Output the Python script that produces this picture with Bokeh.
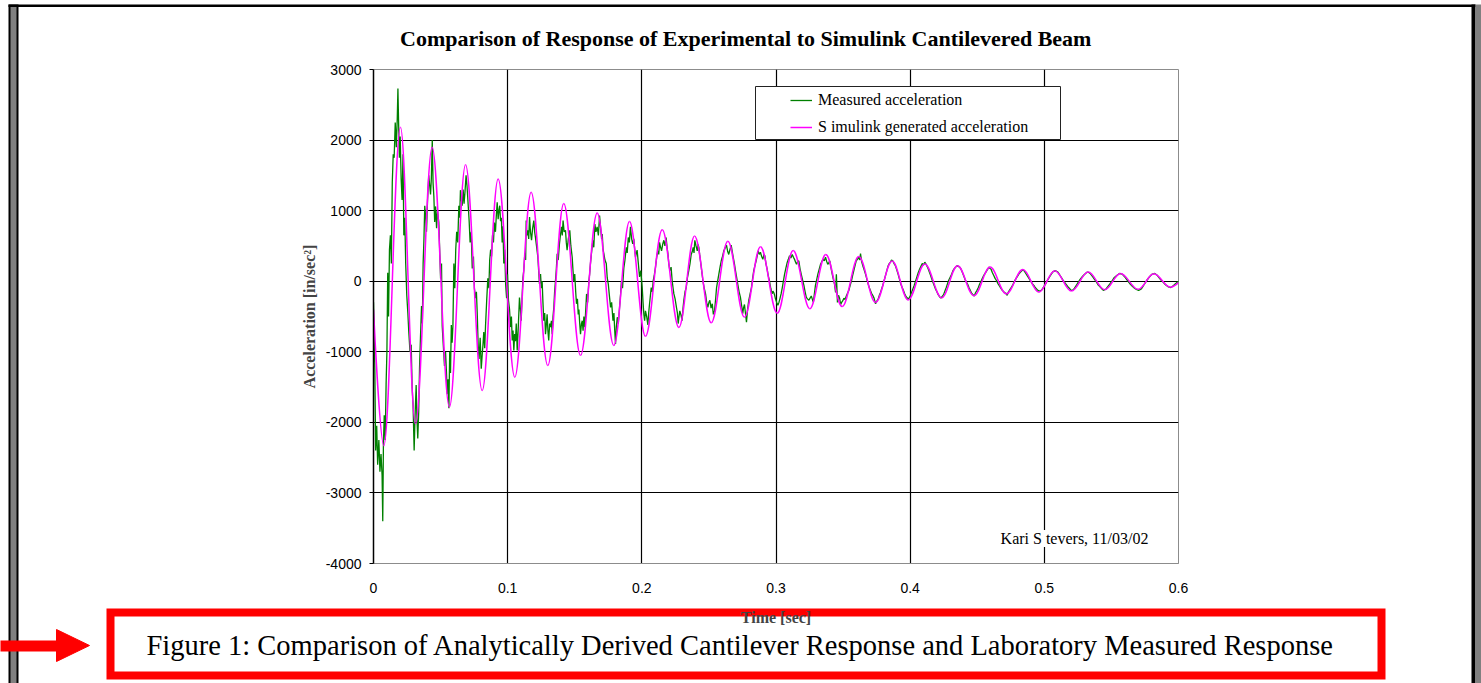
from bokeh.plotting import figure
from bokeh.models import (Range1d, FixedTicker, Label, BoxAnnotation, Legend, LegendItem)
from bokeh.core.properties import value
from bokeh.embed import file_html
from bokeh.resources import INLINE

# ---------------- texts ----------------
title_text = "Comparison of  Response of Experimental to Simulink Cantilevered Beam"
x_label = "Time [sec]"
y_label = "Acceleration [in/sec\u00b2]"
series_names = ["Measured acceleration", "S imulink generated acceleration"]
author_text = "Kari S tevers, 11/03/02"
caption_text = ("Figure 1: Comparison of Analytically Derived Cantilever Response "
                "and Laboratory Measured Response")

# ---------------- ticks ----------------
x_ticks = [0, 0.1, 0.2, 0.3, 0.4, 0.5, 0.6]
x_tick_labels = ["0", "0.1", "0.2", "0.3", "0.4", "0.5", "0.6"]
y_ticks = [-4000, -3000, -2000, -1000, 0, 1000, 2000, 3000]
y_tick_labels = ["-4000", "-3000", "-2000", "-1000", "0", "1000", "2000", "3000"]

# ---------------- Simulink response (extrema) ----------------
sim_t = [0.0, 0.0077, 0.0201, 0.0313, 0.0437, 0.0566, 0.0686, 0.0810, 0.0929, 0.1053,
         0.1175, 0.1299, 0.1418, 0.1543, 0.1667, 0.1791, 0.1908, 0.2027, 0.2152, 0.2276,
         0.2393, 0.2517, 0.2641, 0.2765, 0.2884, 0.3009, 0.3128, 0.3252, 0.3371, 0.3493,
         0.3617, 0.3742, 0.3866, 0.3985, 0.4109, 0.4235, 0.4353, 0.4475, 0.4596, 0.4716,
         0.4840, 0.4959, 0.5078, 0.5202, 0.5327, 0.5450, 0.5568, 0.5699, 0.5816, 0.5940,
         0.6]
sim_acc = [-400, -2330, 2180, -2020, 1900, -1785, 1650, -1550, 1450, -1360,
           1260, -1195, 1100, -1050, 965, -910, 845, -780, 730, -655,
           640, -590, 565, -510, 490, -455, 435, -390, 380, -360,
           350, -300, 285, -265, 245, -235, 220, -205, 200, -180,
           165, -155, 150, -140, 130, -120, 110, -115, 105, -85,
           -20]

measured = [
    (0.0000, -300), (0.0010, -1250), (0.0016, -2400), (0.0024, -2050), (0.0031, -2600),
    (0.0040, -2250), (0.0048, -2700), (0.0056, -2450), (0.0064, -2750), (0.0069, -3400),
    (0.0074, -2300), (0.0080, -1900), (0.0087, -2250), (0.0094, -1450), (0.0100, -1000),
    (0.0106, 120), (0.0112, -500), (0.0119, 450), (0.0126, 650), (0.0133, 250),
    (0.0140, 1400), (0.0147, 1800), (0.0154, 1750), (0.0162, 2250), (0.0170, 1900),
    (0.0177, 2300), (0.0182, 2730), (0.0187, 2250), (0.0193, 1750), (0.0199, 2050),
    (0.0206, 1450), (0.0213, 1150), (0.0220, 1800), (0.0226, 650), (0.0233, 900),
    (0.0240, 250), (0.0248, -200), (0.0256, -450), (0.0263, -720), (0.0272, -1000),
    (0.0281, -900), (0.0288, -1500), (0.0295, -1760), (0.0303, -2400), (0.0310, -1900),
    (0.0318, -1470), (0.0324, -1970), (0.0330, -2230), (0.0337, -1850), (0.0343, -1240),
    (0.0350, -800), (0.0358, -350), (0.0364, -600), (0.0370, 260), (0.0376, 600),
    (0.0382, 1070), (0.0389, 900), (0.0395, 700), (0.0403, 1150), (0.0412, 1500),
    (0.0419, 1350), (0.0425, 1230), (0.0431, 1450), (0.0438, 2000), (0.0444, 1390),
    (0.0450, 1200), (0.0456, 840), (0.0463, 1060), (0.0470, 750), (0.0477, 1000),
    (0.0487, 830), (0.0494, 400), (0.0500, 40), (0.0507, 250), (0.0512, -630),
    (0.0520, -900), (0.0529, -1200), (0.0537, -1000), (0.0544, -1300), (0.0550, -1600),
    (0.0556, -1390), (0.0562, -1800), (0.0568, -1000), (0.0574, -1300), (0.0580, -620),
    (0.0586, -870), (0.0592, -630), (0.0599, 250), (0.0606, -100), (0.0613, 450),
    (0.0620, 700), (0.0628, 550), (0.0636, 1070), (0.0642, 900), (0.0648, 1290),
    (0.0655, 1150), (0.0661, 1070), (0.0668, 1300), (0.0675, 1100), (0.0682, 1270),
    (0.0690, 1500), (0.0697, 1350), (0.0706, 1070), (0.0713, 850), (0.0720, 550),
    (0.0728, 700), (0.0736, 180), (0.0745, 350), (0.0752, -100), (0.0760, -240),
    (0.0767, -150), (0.0773, -440), (0.0780, -900), (0.0787, -1100), (0.0795, -800),
    (0.0803, -1240), (0.0810, -1050), (0.0816, -900), (0.0822, -720), (0.0829, -950),
    (0.0835, -630), (0.0843, -300), (0.0852, 40), (0.0860, -100), (0.0866, 300),
    (0.0873, 450), (0.0880, 350), (0.0887, 650), (0.0894, 550), (0.0901, 830),
    (0.0909, 700), (0.0916, 950), (0.0922, 1120), (0.0929, 880), (0.0935, 1000),
    (0.0941, 1070), (0.0947, 850), (0.0953, 900), (0.0959, 550), (0.0965, 780),
    (0.0971, 250), (0.0978, 450), (0.0985, -50), (0.0992, -240), (0.0999, 100),
    (0.1006, -270), (0.1014, -400), (0.1021, -650), (0.1028, -500), (0.1034, -840),
    (0.1040, -700), (0.1046, -980), (0.1052, -750), (0.1058, -850), (0.1064, -600),
    (0.1071, -980), (0.1078, -700), (0.1088, -230), (0.1095, -400), (0.1101, -560),
    (0.1108, -200), (0.1114, 50), (0.1120, 150), (0.1128, 400), (0.1134, 300),
    (0.1138, 860), (0.1144, 650), (0.1150, 720), (0.1157, 600), (0.1163, 910),
    (0.1170, 700), (0.1178, 580), (0.1186, 750), (0.1195, 860), (0.1201, 700),
    (0.1207, 620), (0.1215, 500), (0.1225, 340), (0.1231, 150), (0.1237, -40),
    (0.1245, 100), (0.1251, -100), (0.1257, 0), (0.1263, -300), (0.1269, -560),
    (0.1276, -450), (0.1282, -750), (0.1288, -620), (0.1294, -470), (0.1300, -700),
    (0.1306, -840), (0.1313, -600), (0.1319, -650), (0.1326, -560), (0.1332, -750),
    (0.1338, -500), (0.1344, -370), (0.1350, -150), (0.1356, 0), (0.1362, 150),
    (0.1369, 390), (0.1377, 300), (0.1386, 530), (0.1393, 650), (0.1401, 770),
    (0.1407, 650), (0.1413, 860), (0.1421, 700), (0.1431, 720), (0.1437, 550),
    (0.1443, 440), (0.1452, 600), (0.1463, 720), (0.1471, 500), (0.1481, 340),
    (0.1487, 150), (0.1493, 0), (0.1500, 100), (0.1507, -150), (0.1513, -320),
    (0.1520, -250), (0.1526, -470), (0.1531, -400), (0.1537, -600), (0.1543, -750),
    (0.1550, -600), (0.1556, -560), (0.1562, -700), (0.1568, -500), (0.1575, -650),
    (0.1582, -400), (0.1588, -180), (0.1596, -300), (0.1605, 0), (0.1611, 100),
    (0.1617, 250), (0.1625, 400), (0.1635, 580), (0.1642, 480), (0.1650, 810),
    (0.1658, 700), (0.1667, 770), (0.1676, 650), (0.1685, 930), (0.1693, 750),
    (0.1700, 600), (0.1705, 670), (0.1711, 450), (0.1717, 390), (0.1725, 300),
    (0.1735, 250), (0.1742, 50), (0.1750, -40), (0.1758, -200), (0.1767, -370),
    (0.1775, -300), (0.1785, -560), (0.1792, -450), (0.1798, -700), (0.1804, -890),
    (0.1810, -650), (0.1817, -510), (0.1825, -600), (0.1834, -370), (0.1841, -200),
    (0.1848, 0), (0.1856, -100), (0.1866, 190), (0.1874, 300), (0.1884, 480),
    (0.1891, 400), (0.1899, 620), (0.1907, 550), (0.1915, 770), (0.1924, 600),
    (0.1932, 530), (0.1940, 600), (0.1947, 450), (0.1953, 340), (0.1959, 400),
    (0.1965, 440), (0.1974, 250), (0.1983, 60), (0.1992, 150), (0.2003, -90),
    (0.2009, -300), (0.2015, -470), (0.2021, -560), (0.2027, -420), (0.2036, -500),
    (0.2045, -620), (0.2051, -450), (0.2057, -330), (0.2064, -200), (0.2070, -90),
    (0.2078, -150), (0.2085, 10), (0.2094, 100), (0.2102, 200), (0.2110, 330),
    (0.2119, 430), (0.2126, 380), (0.2132, 550), (0.2140, 480), (0.2147, 430),
    (0.2155, 520), (0.2164, 580), (0.2172, 500), (0.2181, 620), (0.2188, 480),
    (0.2194, 400), (0.2201, 250), (0.2209, 150), (0.2218, 200), (0.2226, 10),
    (0.2233, -100), (0.2239, -180), (0.2248, -250), (0.2258, -370), (0.2265, -450),
    (0.2271, -600), (0.2277, -500), (0.2283, -420), (0.2292, -480), (0.2300, -560),
    (0.2307, -380), (0.2313, -270), (0.2322, -150), (0.2331, -90), (0.2340, 50),
    (0.2350, 150), (0.2359, 250), (0.2368, 380), (0.2376, 420), (0.2383, 480),
    (0.2389, 400), (0.2395, 580), (0.2404, 500), (0.2413, 430), (0.2419, 520),
    (0.2425, 480), (0.2431, 380), (0.2437, 290), (0.2446, 150), (0.2455, 10),
    (0.2465, -100), (0.2475, -180), (0.2483, -300), (0.2492, -370), (0.2500, -300),
    (0.2507, -270), (0.2516, -380), (0.2525, -320), (0.2533, -470), (0.2542, -420),
    (0.2550, -250), (0.2557, -90), (0.2565, 0), (0.2574, 100), (0.2583, 200),
    (0.2592, 290), (0.2601, 350), (0.2611, 430), (0.2621, 470), (0.2631, 510),
    (0.2640, 420), (0.2648, 380), (0.2657, 450), (0.2666, 510), (0.2674, 420),
    (0.2681, 340), (0.2690, 250), (0.2698, 150), (0.2706, 60), (0.2715, -40),
    (0.2725, -150), (0.2735, -230), (0.2744, -350), (0.2752, -460), (0.2758, -380),
    (0.2765, -330), (0.2772, -450), (0.2780, -580), (0.2788, -400), (0.2797, -270),
    (0.2807, -180), (0.2817, -90), (0.2825, 30), (0.2834, 150), (0.2843, 220),
    (0.2852, 290), (0.2860, 360), (0.2867, 430), (0.2876, 380), (0.2884, 410),
    (0.2893, 350), (0.2902, 310), (0.2910, 380), (0.2917, 360), (0.2925, 250),
    (0.2934, 170), (0.2942, 80), (0.2951, 10), (0.2961, -100), (0.2971, -180),
    (0.2977, -140), (0.2983, -160), (0.2990, -200), (0.2996, -250), (0.3005, -300),
    (0.3014, -340), (0.3022, -300), (0.3029, -250), (0.3038, -180), (0.3047, -90),
    (0.3055, 0), (0.3064, 100), (0.3074, 190), (0.3084, 270), (0.3092, 310),
    (0.3101, 360), (0.3111, 330), (0.3121, 380), (0.3130, 340), (0.3138, 310),
    (0.3146, 270), (0.3153, 240), (0.3161, 280), (0.3170, 290), (0.3179, 180),
    (0.3188, 100), (0.3198, 20), (0.3208, -60), (0.3217, -150), (0.3226, -230),
    (0.3235, -250), (0.3245, -270), (0.3254, -240), (0.3263, -210), (0.3270, -250),
    (0.3278, -300), (0.3286, -180), (0.3294, -60), (0.3303, 20), (0.3312, 100),
    (0.3322, 170), (0.3332, 240), (0.3342, 280), (0.3352, 310), (0.3360, 290),
    (0.3369, 340), (0.3378, 280), (0.3386, 240), (0.3393, 260), (0.3401, 290),
    (0.3410, 190), (0.3419, 100), (0.3427, 30), (0.3436, -40), (0.3444, -160),
    (0.3450, 100), (0.3458, -300), (0.3466, -200), (0.3474, -240), (0.3482, -330),
    (0.3489, -300), (0.3497, -280), (0.3506, -240), (0.3515, -260), (0.3524, -210),
    (0.3533, -170), (0.3543, -130), (0.3553, -60), (0.3563, 10), (0.3571, 80),
    (0.3580, 150), (0.3589, 220), (0.3598, 290), (0.3607, 310), (0.3617, 340),
    (0.3624, 300), (0.3630, 390), (0.3638, 280), (0.3647, 220), (0.3657, 160),
    (0.3667, 100), (0.3677, 30), (0.3687, -40), (0.3695, -90), (0.3704, -130),
    (0.3712, -170), (0.3721, -200), (0.3731, -240), (0.3742, -320), (0.3752, -280),
    (0.3762, -250), (0.3770, -200), (0.3779, -160), (0.3787, -110), (0.3796, -60),
    (0.3806, 10), (0.3816, 80), (0.3826, 150), (0.3836, 220), (0.3844, 250),
    (0.3853, 270), (0.3861, 300), (0.3870, 290), (0.3880, 250), (0.3890, 220),
    (0.3900, 160), (0.3910, 100), (0.3920, 30), (0.3930, -40), (0.3940, -90),
    (0.3950, -130), (0.3960, -180), (0.3970, -220), (0.3980, -240), (0.3990, -250),
    (0.4000, -210), (0.4010, -160), (0.4020, -110), (0.4030, -60), (0.4040, 0),
    (0.4050, 60), (0.4060, 120), (0.4070, 170), (0.4080, 210), (0.4090, 250),
    (0.4100, 230), (0.4109, 270), (0.4119, 240), (0.4129, 200), (0.4139, 150),
    (0.4149, 100), (0.4159, 40), (0.4169, -10), (0.4179, -60), (0.4189, -110),
    (0.4199, -150), (0.4209, -190), (0.4219, -220), (0.4229, -240), (0.4239, -215),
    (0.4249, -190), (0.4259, -140), (0.4269, -90), (0.4279, -30), (0.4289, 20),
    (0.4299, 60), (0.4309, 100), (0.4319, 150), (0.4329, 180), (0.4339, 200),
    (0.4349, 220), (0.4359, 210), (0.4369, 200), (0.4379, 170), (0.4388, 130),
    (0.4398, 80), (0.4408, 30), (0.4418, -10), (0.4428, -40), (0.4438, -90),
    (0.4448, -130), (0.4458, -170), (0.4468, -190), (0.4478, -210), (0.4488, -160),
    (0.4498, -130), (0.4508, -90), (0.4518, -40), (0.4528, 0), (0.4538, 40),
    (0.4548, 80), (0.4558, 110), (0.4568, 140), (0.4578, 170), (0.4588, 200),
    (0.4596, 180), (0.4603, 170), (0.4613, 120), (0.4623, 80), (0.4633, 40),
    (0.4643, 10), (0.4653, -30), (0.4663, -60), (0.4673, -90), (0.4683, -120),
    (0.4693, -140), (0.4703, -160), (0.4713, -170), (0.4723, -200), (0.4733, -150),
    (0.4743, -120), (0.4753, -90), (0.4763, -60), (0.4773, -20), (0.4783, 20),
    (0.4793, 50), (0.4803, 80), (0.4813, 110), (0.4823, 130), (0.4833, 150),
    (0.4842, 160), (0.4852, 140), (0.4862, 110), (0.4872, 80), (0.4882, 50),
    (0.4892, 20), (0.4902, -10), (0.4912, -40), (0.4922, -60), (0.4932, -90),
    (0.4942, -110), (0.4952, -130), (0.4962, -140), (0.4972, -135), (0.4982, -120),
    (0.4992, -90), (0.5002, -60), (0.5012, -30), (0.5022, 10), (0.5032, 40),
    (0.5042, 70), (0.5052, 100), (0.5062, 130), (0.5071, 140), (0.5081, 150),
    (0.5091, 140), (0.5101, 130), (0.5111, 100), (0.5121, 70), (0.5131, 40),
    (0.5141, 10), (0.5151, -15), (0.5161, -40), (0.5171, -65), (0.5181, -90),
    (0.5191, -110), (0.5201, -130), (0.5211, -125), (0.5221, -110), (0.5231, -80),
    (0.5241, -50), (0.5251, -20), (0.5261, 10), (0.5271, 35), (0.5281, 60),
    (0.5291, 80), (0.5301, 100), (0.5311, 115), (0.5321, 130), (0.5331, 125),
    (0.5341, 110), (0.5351, 85), (0.5361, 60), (0.5371, 35), (0.5381, 10),
    (0.5391, -20), (0.5400, -50), (0.5410, -70), (0.5420, -90), (0.5430, -110),
    (0.5440, -130), (0.5450, -120), (0.5460, -110), (0.5470, -85), (0.5480, -60),
    (0.5490, -35), (0.5500, -10), (0.5510, 20), (0.5520, 50), (0.5530, 65),
    (0.5540, 80), (0.5550, 95), (0.5560, 110), (0.5570, 105), (0.5580, 100),
    (0.5590, 80), (0.5600, 60), (0.5610, 35), (0.5620, 10), (0.5630, -15),
    (0.5640, -40), (0.5650, -60), (0.5660, -80), (0.5670, -95), (0.5680, -110),
    (0.5690, -120), (0.5703, -130), (0.5713, -120), (0.5723, -110), (0.5733, -80),
    (0.5743, -50), (0.5753, -20), (0.5763, 10), (0.5773, 35), (0.5783, 60),
    (0.5793, 80), (0.5803, 100), (0.5813, 105), (0.5823, 110), (0.5833, 95),
    (0.5843, 80), (0.5853, 55), (0.5863, 30), (0.5873, 10), (0.5883, -10),
    (0.5893, -30), (0.5903, -50), (0.5913, -65), (0.5923, -80), (0.5933, -85),
    (0.5943, -90), (0.5953, -75), (0.5963, -60), (0.5975, -40), (0.5987, -20),
    (0.6000, 0),
]
meas_t = [pt[0] for pt in measured]
meas_acc = [pt[1] for pt in measured]

# ---------------- layout (page pixels) ----------------
W, H = 1481, 683
FL, FR, FT, FB = 373, 1178, 69, 563   # plot frame edges on the page

def sx(px):   # page x -> frame-relative screen x
    return px - FL

def sy(py):   # page y -> frame-relative screen y (upwards)
    return FB - py

SERIF = "Liberation Serif"
SANS = "Liberation Sans"

p = figure(width=W, height=H, x_range=Range1d(0, 0.6), y_range=Range1d(-4000, 3000),
           output_backend="svg", toolbar_location=None,
           min_border_left=FL, min_border_right=W - FR,
           min_border_top=FT, min_border_bottom=H - FB,
           background_fill_color="white", border_fill_color="white",
           outline_line_color="#8c8c8c", outline_line_width=1)
# a pixel-space coordinate system (page pixels) for the decorations around the chart
p.extra_x_ranges = {"page": Range1d(FL, FR)}
p.extra_y_ranges = {"page": Range1d(FB, FT)}
PG = dict(x_range_name="page", y_range_name="page", level="overlay")
PG_UNDER = dict(x_range_name="page", y_range_name="page", level="guide")

# axes
xa = p.xaxis[0]
xa.ticker = FixedTicker(ticks=x_ticks)
xa.major_label_overrides = dict(zip(x_ticks, x_tick_labels))
xa.major_tick_out = 0
xa.major_tick_in = 0
xa.minor_tick_out = 0
xa.minor_tick_in = 0
xa.axis_line_color = "#8c8c8c"
xa.major_label_standoff = 19
xa.major_label_text_font = SANS
xa.major_label_text_font_size = "14px"
xa.major_label_text_color = "black"
xa.axis_label = x_label
xa.axis_label_text_font = SERIF
xa.axis_label_text_font_style = "bold"
xa.axis_label_text_font_size = "16px"
xa.axis_label_standoff = 13

ya = p.yaxis[0]
ya.ticker = FixedTicker(ticks=y_ticks)
ya.major_label_overrides = dict(zip(y_ticks, y_tick_labels))
ya.major_tick_out = 4
ya.major_tick_in = 0
ya.minor_tick_out = 0
ya.minor_tick_in = 0
ya.axis_line_color = "black"
ya.axis_line_width = 1.5
ya.major_tick_line_color = "black"
ya.major_label_standoff = 8
ya.major_label_text_font = SANS
ya.major_label_text_font_size = "14px"
ya.major_label_text_color = "black"
ya.axis_label = y_label
ya.axis_label_text_font = SERIF
ya.axis_label_text_font_style = "bold"
ya.axis_label_text_font_size = "16px"
ya.axis_label_standoff = 5

p.xgrid[0].ticker = FixedTicker(ticks=x_ticks[1:-1])
p.ygrid[0].ticker = FixedTicker(ticks=y_ticks[1:-1])
for g in (p.xgrid[0], p.ygrid[0]):
    g.grid_line_color = "black"
    g.grid_line_width = 1.2

# data
r_meas = p.line(meas_t, meas_acc, line_color="#008000", line_width=1.3)

k = 0.364
bx0, by0 = sim_t[:-1], sim_acc[:-1]
bx1, by1 = sim_t[1:], sim_acc[1:]
cx0 = [a + k * (b - a) for a, b in zip(bx0, bx1)]
cx1 = [b - k * (b - a) for a, b in zip(bx0, bx1)]
cy0 = list(by0)
cy1 = list(by1)
cx0[0], cy0[0] = bx0[0], by0[0]
cx1[-1], cy1[-1] = bx1[-1], by1[-1]
r_sim = p.bezier(x0=bx0, y0=by0, x1=bx1, y1=by1, cx0=cx0, cy0=cy0, cx1=cx1, cy1=cy1,
                 line_color="#ff00ff", line_width=1.5)

# legend box + legend
p.add_layout(BoxAnnotation(left=sx(755), right=sx(1060), top=sy(86), bottom=sy(139),
                           left_units="screen", right_units="screen",
                           top_units="screen", bottom_units="screen",
                           fill_color="white", fill_alpha=1.0,
                           line_color="#222222", line_width=1, line_alpha=1.0))
legend = Legend(items=[LegendItem(label=series_names[0], renderers=[r_meas]),
                       LegendItem(label=series_names[1], renderers=[r_sim])],
                location=(sx(786), sy(141)), padding=4, spacing=7, margin=0,
                glyph_width=22, glyph_height=20, label_height=20, label_standoff=6,
                border_line_alpha=0, background_fill_alpha=0,
                label_text_font=SERIF, label_text_font_size="16px",
                label_text_color="black")
p.add_layout(legend)

# author note (inside the plot area)
p.add_layout(Label(x=sx(1074), y=sy(538), x_units="screen", y_units="screen",
                   text=author_text, text_align="center", text_baseline="middle",
                   text_font=SERIF, text_font_size="16px", text_color="black",
                   background_fill_color="white", background_fill_alpha=1.0))

# ---------- decorations outside the plot area, in page pixels ----------
# caption box + caption (drawn under the axis texts)
p.quad(left=[110], right=[1381], top=[612], bottom=[675], fill_color="white",
       line_color="red", line_width=8, line_join="miter", **PG_UNDER)
p.text(x=[740], y=[645], text=[caption_text], text_align="center", text_baseline="middle",
       text_font=value(SERIF), text_font_size="28.5px", text_color="black", **PG_UNDER)

# page frame (document border)
bars_l = [8, 10, 8, 1471, 1475]
bars_r = [18, 16, 1475, 1475, 1481]
bars_t = [4, 6, 4, 4, 4]
bars_b = [683, 683, 6.5, 683, 683]
bars_c = ["black", "#808080", "black", "black", "#808080"]
p.quad(left=bars_l, right=bars_r, top=bars_t, bottom=bars_b, fill_color=bars_c,
       line_alpha=0, **PG)

# chart title
p.text(x=[748], y=[38], text=[title_text], text_align="center", text_baseline="middle",
       text_font=value(SERIF), text_font_style="bold", text_font_size="22px",
       text_color="black", **PG)

# red arrow pointing at the caption
p.quad(left=[0], right=[60], top=[640], bottom=[651], fill_color="red", line_alpha=0, **PG)
p.patch(x=[56, 89, 56], y=[629, 645, 661], fill_color="red", line_color="red",
        line_width=1, **PG)

open("out.html", "w").write(file_html(p, INLINE))
